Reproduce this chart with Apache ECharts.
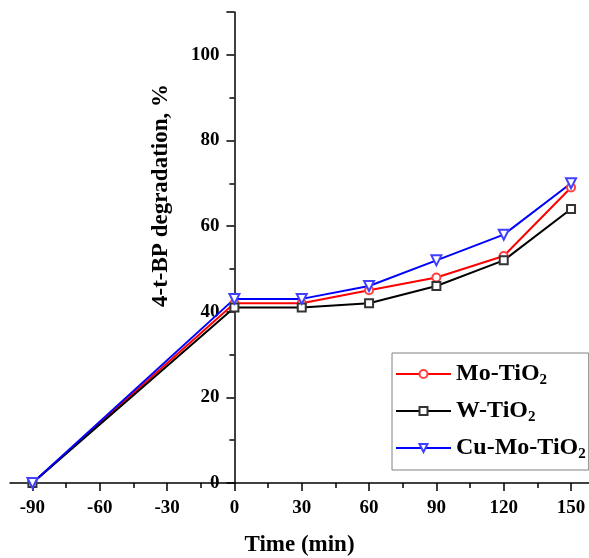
<!DOCTYPE html>
<html>
<head>
    <meta charset="utf-8">
    <title>4-t-BP degradation</title>
    <script src="https://cdn.jsdelivr.net/npm/echarts@6/dist/echarts.min.js"></script>
    <style>
        html, body { margin: 0; padding: 0; background: #fff; }
        #chart { width: 589px; height: 558px; }
    </style>
</head>
<body>
<div id="chart"></div>
<script>
    // data
    var times = [-90, 0, 30, 60, 90, 120, 150];
    var moTiO2 = [0, 42, 42, 45, 48, 53, 69];
    var wTiO2 = [0, 41, 41, 42, 46, 52, 64];
    var cuMoTiO2 = [0, 43, 43, 46, 52, 58, 70];
    var xTicks = [-90, -60, -30, 0, 30, 60, 90, 120, 150];
    var xMinorTicks = [-75, -45, -15, 15, 45, 75, 105, 135];

    var font = '"Liberation Serif", "Times New Roman", serif';
    var xMin = -100, xMax = 158;
    var gridLeft = 10, gridRight = 0, chartWidth = 589;

    function pairs(ys) {
        return times.map(function (t, i) { return [t, ys[i]]; });
    }

    // y axis sits on x = 0, shift it in from the grid's left edge
    var yShift = (0 - xMin) / (xMax - xMin) * (chartWidth - gridLeft - gridRight);

    var myChart = echarts.init(document.getElementById('chart'));
    var option = {
        animation: false,
        grid: {
            left: gridLeft, right: gridRight, top: 12, bottom: 75,
            containLabel: false,
            outerBoundsMode: 'none'
        },
        legend: {
            orient: 'vertical',
            left: 392,
            top: 353,
            itemWidth: 55,
            itemHeight: 10,
            itemGap: 11,
            padding: [9, 3, 8, 3],
            borderColor: '#808080',
            borderWidth: 1,
            backgroundColor: '#fff',
            textStyle: {
                fontFamily: font,
                fontWeight: 'bold',
                fontSize: 24,
                color: '#000',
                rich: {
                    b: { fontFamily: font, fontWeight: 'bold', fontSize: 24, color: '#000' },
                    sub: { fontFamily: font, fontWeight: 'bold', fontSize: 15, color: '#000', padding: [13, 0, 0, 0] }
                }
            },
            formatter: function (name) {
                return '{b|' + name.slice(0, -1) + '}{sub|2}';
            },
            data: ['Mo-TiO2', 'W-TiO2', 'Cu-Mo-TiO2']
        },
        xAxis: [{
            type: 'value',
            position: 'bottom',
            min: xMin,
            max: xMax,
            name: 'Time (min)',
            nameLocation: 'middle',
            nameGap: 51,
            nameTextStyle: { fontFamily: font, fontWeight: 'bold', fontSize: 23, color: '#000' },
            splitLine: { show: false },
            axisLine: { lineStyle: { color: '#000', width: 1.5 } },
            axisTick: { customValues: xTicks, length: 8, lineStyle: { color: '#000', width: 1.5 } },
            axisLabel: {
                customValues: xTicks,
                margin: 16,
                fontFamily: font, fontWeight: 'bold', fontSize: 19, color: '#000'
            }
        }, {
            type: 'value',
            position: 'bottom',
            min: xMin,
            max: xMax,
            splitLine: { show: false },
            axisLine: { show: false },
            axisTick: { customValues: xMinorTicks, length: 5, lineStyle: { color: '#000', width: 1.5 } },
            axisLabel: { show: false }
        }],
        yAxis: {
            type: 'value',
            position: 'left',
            offset: -yShift,
            min: 0,
            max: 110,
            interval: 20,
            name: '4-t-BP degradation, %',
            nameLocation: 'middle',
            nameGap: 62,
            nameTextStyle: {
                fontFamily: font, fontWeight: 'bold', fontSize: 23, color: '#000',
                padding: [0, 0, 0, 104]
            },
            splitLine: { show: false },
            axisLine: { onZero: false, lineStyle: { color: '#000', width: 1.5 } },
            axisTick: { length: 8, lineStyle: { color: '#000', width: 1.5 } },
            minorTick: { show: true, splitNumber: 2, length: 5, lineStyle: { color: '#000', width: 1.5 } },
            axisLabel: {
                showMaxLabel: false,
                margin: 15,
                fontFamily: font, fontWeight: 'bold', fontSize: 19, color: '#000'
            }
        },
        series: [{
            name: 'Mo-TiO2',
            type: 'line',
            data: pairs(moTiO2),
            symbol: 'emptyCircle',
            symbolSize: 8,
            lineStyle: { color: '#ff0000', width: 2 },
            itemStyle: { color: '#ff4040', borderWidth: 1.2 }
        }, {
            name: 'W-TiO2',
            type: 'line',
            data: pairs(wTiO2),
            symbol: 'emptyRect',
            symbolSize: 8,
            lineStyle: { color: '#000', width: 2 },
            itemStyle: { color: '#333', borderWidth: 1.2 }
        }, {
            name: 'Cu-Mo-TiO2',
            type: 'line',
            data: pairs(cuMoTiO2),
            symbol: 'emptyTriangle',
            symbolRotate: 180,
            symbolSize: 10,
            lineStyle: { color: '#0000ff', width: 2 },
            itemStyle: { color: '#4040ff', borderWidth: 1.2 }
        }]
    };
    myChart.setOption(option);
</script>
</body>
</html>
